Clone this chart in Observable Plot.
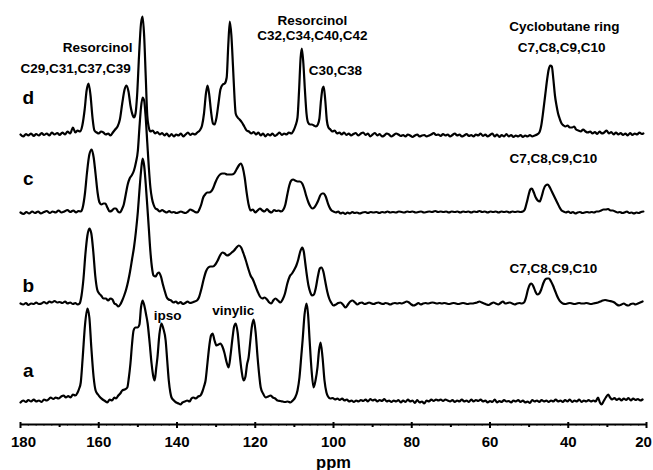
<!DOCTYPE html>
<html><head><meta charset="utf-8">
<script src="https://cdn.jsdelivr.net/npm/d3@7"></script>
<script src="https://cdn.jsdelivr.net/npm/@observablehq/plot@0.6"></script>
<style>body{margin:0;background:#fff}svg{display:block}</style>
</head><body><div id="chart"></div>
<script>
// stacked 13C CP-MAS spectra; intensities in arbitrary units above each baseline
const traceNames = ["a", "b", "c", "d"];
const traceOffsets = [22, 121, 212, 289];

const traceA = [[180,0],[179.3,2],[178.6,0.5],[178,2.5],[177.3,1],[176.6,3],[176,1],[175.3,2],[174.6,0.5],[174,3],[173.3,2],[172.6,4],[172.3,5],[171.6,3.5],[171,5],[170.3,4],[169.6,6],[169,7],[168.4,5],[167.8,6.5],[167.2,5],[166.6,8],[166,7],[165.4,10],[165,14],[164.6,20],[164.1,45],[163.5,78],[162.9,94],[162.4,85],[161.9,55],[161.3,25],[160.8,12],[160.2,8],[159.6,5],[159,3],[158.4,1.5],[157.8,0],[157.2,3],[156.6,2],[156,5],[155.6,4],[155,7],[154.5,9],[154,12],[153.4,13],[152.7,15],[152.3,25],[151.9,39],[151.5,58],[151.1,72],[150.6,75],[150.1,75],[149.6,78],[149.2,95],[148.8,102],[148.3,96],[147.9,88],[147.5,79],[147,60],[146.5,39],[146.1,27],[145.7,22],[145.3,35],[145,45],[144.5,68],[144,79],[143.5,74],[142.9,62],[142.5,42],[142.1,22],[141.7,10],[141.4,5],[140.8,2],[140.2,0],[139.6,-1],[139.1,-2],[138.6,0],[138,1],[137.4,2],[136.8,1],[136.3,4],[135.8,5],[135.2,4],[134.6,6],[134,7],[133.5,11],[133.1,16],[132.7,22],[132.2,40],[131.7,58],[131.3,67],[130.9,69],[130.4,62],[129.9,57],[129.4,58],[128.9,59],[128.4,56],[127.9,50],[127.3,40],[126.8,35],[126.3,48],[125.8,65],[125.4,76],[125,79],[124.5,70],[124,49],[123.5,32],[123,22],[122.5,26],[122.1,38],[121.7,45],[121.3,60],[120.9,75],[120.4,83],[119.9,70],[119.4,45],[119,28],[118.6,15],[118,9],[117.3,5],[116.7,6],[116.1,7],[115.5,5],[114.9,4],[114.3,2],[113.6,1.5],[113,1],[112.4,0.5],[111.7,1],[111,0],[110.4,2],[109.8,5],[109.2,12],[108.7,25],[108.2,48],[107.9,62],[107.4,88],[106.9,99],[106.5,88],[106.1,62],[105.6,32],[105.1,15],[104.6,22],[104.1,35],[103.7,52],[103.3,60],[102.8,45],[102.3,22],[101.8,10],[101.4,6],[100.8,4],[100.2,4.5],[99.6,3],[99,4],[98.4,2.5],[97.8,4],[97.2,2],[96.6,3],[96,1],[95.4,2],[94.8,0.5],[94.2,2],[93.6,1],[93,2.5],[92.4,1.5],[91.8,3],[91.2,1],[90.6,3.5],[90,2],[89.4,3],[88.8,1],[88.2,2.5],[87.6,1.5],[87,3.5],[86.4,1],[85.8,2],[85.2,0.5],[84.6,2],[84,1],[83.4,2.5],[82.8,0],[82.2,2],[81.6,0.5],[81,3],[80.4,1],[79.8,2],[79.2,-0.5],[78.6,2.5],[78,0],[77.4,1],[76.8,-1],[76.2,2],[75.6,1],[75,3],[74.4,1.5],[73.8,3],[73.2,2],[72.6,3],[72,1.5],[71.4,3],[70.8,2],[70.2,1],[69.6,2.5],[69,0.5],[68.4,2],[67.8,1],[67.2,3],[66.6,1],[66,2],[65.4,0.5],[64.8,3],[64.2,1],[63.6,2.5],[63,1.5],[62.4,3],[61.8,1],[61.2,2],[60.6,0],[60,1.5],[59.4,0.5],[58.8,3],[58.2,0],[57.6,1.5],[57,0.5],[56.4,2.5],[55.8,1],[55.2,1.5],[54.6,0],[54,2],[53.4,1],[52.8,2.5],[52.2,0.5],[51.6,2],[51,0],[50.4,1],[49.8,-0.5],[49.2,2.5],[48.6,1],[48,2],[47.4,0.5],[46.8,2.5],[46.2,1],[45.6,2],[45,0.5],[44.4,2],[43.8,1],[43.2,3],[42.6,1],[42,2],[41.4,0.5],[40.8,2.5],[40.2,1],[39.6,3],[39,0.5],[38.4,2],[37.8,1],[37.2,3],[36.6,0.5],[36,2],[35.4,1],[34.8,2.5],[34.2,1],[33.6,2],[33,1],[32.4,5],[31.9,0],[31.5,-2],[31,1],[30.4,5],[29.8,8],[29.3,5],[28.8,3],[28.2,4.5],[27.6,2.5],[27,4],[26.4,2],[25.8,4],[25.2,2.5],[24.6,4.5],[24,2],[23.4,4],[22.8,2.5],[22.2,3.5],[21.6,2],[21,3]];

const traceB = [[180,0],[179.3,-1],[178.6,0.5],[178,-1.5],[177.3,0],[176.6,-0.5],[176,1],[175.3,-0.5],[174.6,0],[174,1.5],[173.3,0],[172.6,2],[172,1],[171.3,2.5],[170.6,1],[170,1.5],[169.3,0.5],[168.6,2],[168,0],[167.3,1],[166.6,-0.5],[166,0.5],[165.4,-1],[164.9,0],[164.4,8],[163.9,25],[163.4,50],[162.9,68],[162.4,75],[161.9,70],[161.4,52],[160.9,28],[160.4,14],[159.9,10],[159.4,8],[158.8,5],[158.2,5],[157.6,3],[157,5],[156.5,4],[156,0],[155.5,-1],[155,-3],[154.5,-1],[154,3],[153.5,8],[153,14],[152.5,22],[152,32],[151.5,44],[151,56],[150.5,72],[150,92],[149.6,113],[149.2,132],[148.8,145],[148.4,138],[148,120],[147.6,98],[147.2,75],[146.8,52],[146.4,36],[146,28],[145.5,27],[145,30],[144.6,31],[144.1,27],[143.6,19],[143.1,12],[142.6,6],[142.1,4],[141.5,3],[140.9,1],[140.3,2],[139.7,0],[139.1,1.5],[138.5,-0.5],[137.9,0.5],[137.3,2],[136.7,0.5],[136.1,1],[135.5,2],[134.9,3],[134.4,6],[133.8,14],[133.2,24],[132.6,32],[132,36],[131.4,37],[130.8,37],[130.2,39],[129.6,43],[129,48],[128.4,51],[127.8,50],[127.2,48],[126.6,49],[126,51],[125.4,53],[124.8,56],[124.2,58],[123.6,56],[123,50],[122.4,43],[121.8,35],[121.2,28],[120.6,24],[120,18],[119.4,12],[118.8,7],[118.2,5],[117.6,6],[117,4],[116.4,1],[115.9,0],[115.4,3],[114.8,5],[114.2,3],[113.6,1],[113,4],[112.4,10],[111.8,20],[111.2,27],[110.6,30],[110,34],[109.5,38],[109,44],[108.5,52],[108,56],[107.6,52],[107.2,40],[106.8,28],[106.4,18],[106,12],[105.5,8],[105,9],[104.5,16],[104,27],[103.5,35],[103.1,36],[102.6,32],[102.1,22],[101.6,12],[101.1,5],[100.6,1],[100,-2],[99.4,-1],[98.8,0.5],[98.2,1],[97.6,-1],[96.9,-4],[96.3,-1],[95.7,2],[95.1,3],[94.5,1],[93.9,-1],[93.3,0.5],[92.7,1],[92.1,-0.5],[91.5,0],[90.9,1],[90.3,0],[89.7,-0.5],[89.1,0.5],[88.5,1],[87.9,0],[87.3,-0.5],[86.7,0.5],[86.1,0],[85.5,-1],[84.9,0],[84.3,0.5],[83.7,0],[83.1,0.5],[82.5,0],[81.9,1],[81.3,2],[80.7,1],[80.1,-1],[79.5,-2],[78.9,-1],[78.3,0.5],[77.7,-1],[77.1,0],[76.5,0.5],[75.9,0],[75.3,0.5],[74.7,1],[74.1,0.5],[73.5,0],[72.9,0.5],[72.3,0],[71.7,0.5],[71.1,0],[70.5,-0.5],[69.9,0],[69.3,0.5],[68.7,0],[68.1,-0.5],[67.5,0],[66.9,0.5],[66.3,0],[65.7,-0.5],[65.1,0],[64.5,0],[63.9,0.5],[63.3,1],[62.7,2],[62.1,1],[61.5,0],[60.9,-1],[60.3,-1.5],[59.7,0],[59.1,1],[58.5,0],[57.9,-1],[57.3,0.5],[56.7,2],[56.1,0],[55.5,0.5],[54.9,1],[54.3,0],[53.7,-1],[53.1,0],[52.5,0.5],[51.9,0],[51.3,1],[50.8,6],[50.3,14],[49.8,19],[49.4,20],[48.9,17],[48.4,12],[47.9,9],[47.4,10],[46.9,14],[46.4,20],[45.9,24],[45.4,25],[44.9,25],[44.4,22],[43.9,18],[43.4,13],[42.9,8],[42.4,4],[41.9,1.5],[41.4,0],[40.8,-0.5],[40.2,0],[39.6,0.5],[39,0],[38.4,-0.5],[37.8,0],[37.2,0.5],[36.6,0],[36,0],[35.4,0.5],[34.8,0],[34.2,-0.5],[33.6,0],[33,0.5],[32.4,1],[31.8,2],[31.2,3],[30.6,3.5],[30,3],[29.4,2.5],[28.8,2],[28.2,1],[27.6,-1],[27,-2],[26.4,-1],[25.8,0],[25.2,-1.5],[24.6,-2],[24,-0.5],[23.4,0],[22.8,-1],[22.2,0],[21.6,1],[21,2]];

const traceC = [[180,0],[179.2,-1.5],[178.5,0.5],[177.8,-1],[177,1],[176.3,-0.5],[175.5,1],[174.8,-1],[174,0.5],[173.3,1.5],[172.5,-0.5],[171.8,1],[171,0],[170.3,2],[169.5,0],[168.8,1],[168,2.5],[167.3,0.5],[166.5,2],[165.8,0],[165.2,1.5],[164.6,1],[164.1,5],[163.5,20],[163,40],[162.4,58],[161.8,63],[161.3,55],[160.8,38],[160.3,20],[159.8,10],[159.3,8],[158.8,9],[158.3,9],[157.8,5],[157.2,1],[156.6,2],[156.1,4],[155.6,4],[155.1,1],[154.6,0],[154.1,3],[153.6,8],[153.1,18],[152.6,28],[152.1,34],[151.6,37],[151,42],[150.5,50],[150,62],[149.6,85],[149.2,105],[148.8,115],[148.4,112],[148,95],[147.6,70],[147.2,45],[146.8,25],[146.4,14],[146,8],[145.5,4],[145,3],[144.4,1],[143.8,2.5],[143.2,1],[142.6,0],[142,1.5],[141.4,0],[140.8,0.5],[140.2,-0.5],[139.6,0],[139,1],[138.4,0],[137.8,-0.5],[137.2,1],[136.6,3],[136,2],[135.4,0.5],[134.8,0],[134.3,3],[133.8,8],[133.3,15],[132.8,18],[132.3,20],[131.8,20],[131.3,21],[130.8,24],[130.2,30],[129.6,35],[129,38],[128.4,39],[127.8,39],[127.2,38],[126.6,38],[126,38],[125.4,39],[124.8,43],[124.2,47],[123.7,49],[123.2,45],[122.7,35],[122.2,20],[121.7,8],[121.2,2],[120.6,3],[120,0],[119.4,2],[118.8,4],[118.2,2],[117.6,1],[117,3.5],[116.4,1],[115.8,0],[115.2,2.5],[114.6,1.5],[114,2],[113.4,1],[112.8,3],[112.3,8],[111.8,18],[111.3,27],[110.8,32],[110.3,33],[109.8,32],[109.2,31],[108.6,31],[108,29],[107.5,24],[107,17],[106.4,10],[105.9,6],[105.4,4],[104.9,5],[104.4,8],[103.9,12],[103.4,17],[102.9,19],[102.5,19],[102,16],[101.5,10],[101,5],[100.5,2],[100,1],[99.4,0],[98.8,1],[98.2,-1],[97.6,0],[97,-1.5],[96.4,0],[95.8,-1],[95.2,0.5],[94.6,-0.5],[94,0],[93.3,-1],[92.6,0],[91.9,0.5],[91.2,-0.5],[90.5,0.5],[89.8,0],[89,0.5],[88.3,-0.5],[87.6,0.5],[86.9,0],[86.2,1],[85.5,0],[84.8,0.5],[84,0],[83.3,1],[82.6,0.5],[81.9,0],[81.2,1],[80.5,0.5],[79.8,1],[79,0],[78.3,0.5],[77.6,1],[76.9,0],[76.2,0.5],[75.5,1],[74.8,0.5],[74,1.5],[73.3,0.5],[72.6,1],[71.9,0.5],[71.2,1],[70.5,0],[69.8,1],[69,0.5],[68.3,1],[67.6,0],[66.9,1],[66.2,0.5],[65.5,1],[64.8,0],[64.1,1],[63.4,0.5],[62.7,1.5],[62,0.5],[61.3,1],[60.6,0],[59.9,1],[59.2,0.5],[58.5,1],[57.8,0],[57.1,1],[56.4,0.5],[55.7,1],[55,0],[54.3,1],[53.6,0.5],[52.9,1],[52.2,0.5],[51.6,1],[51.1,3],[50.6,10],[50.1,18],[49.7,23],[49.3,24],[48.8,20],[48.3,15],[47.8,12],[47.3,11],[46.8,16],[46.3,23],[45.8,27],[45.2,28],[44.7,25],[44.2,21],[43.7,17],[43.2,13],[42.7,9],[42.2,5],[41.7,2],[41.2,1],[40.6,0],[40,1],[39.4,-0.5],[38.8,0.5],[38.2,-1],[37.6,0],[37,0.5],[36.4,-0.5],[35.8,0],[35.2,0.5],[34.6,0],[34,0.5],[33.4,0],[32.8,1],[32.2,1],[31.6,2],[31,3],[30.4,3],[29.8,3.5],[29.2,2],[28.6,2],[28,1],[27.4,0],[26.8,0.5],[26.2,-0.5],[25.6,0],[25,1],[24.4,-0.5],[23.8,0],[23.2,-1],[22.6,0],[22,-0.5],[21.4,0.5],[20.8,1]];

const traceD = [[180,1],[179.3,-1],[178.6,1.5],[178,0],[177.3,2],[176.6,-0.5],[176,1.5],[175.3,0],[174.6,2.5],[174,0.5],[173.3,2],[172.6,0],[172,3],[171.3,1],[170.6,2.5],[170,0.5],[169.3,3],[168.6,1],[168,4],[167.3,2],[166.6,8],[166,3],[165.4,5],[164.8,4],[164.2,10],[163.6,26],[163.1,45],[162.6,52],[162.1,40],[161.6,18],[161.1,5],[160.5,3],[160,2],[159.4,4],[158.8,3],[158.2,1],[157.6,2],[157,0],[156.4,3],[155.8,6],[155.2,9],[154.6,16],[154,32],[153.4,46],[152.9,50],[152.4,44],[151.9,30],[151.3,20],[151,18],[150.6,22],[150.2,40],[149.7,80],[149.2,112],[148.8,119],[148.4,100],[148,60],[147.6,20],[147.2,8],[146.8,4],[146.2,5],[145.6,2],[145,3.5],[144.4,1],[143.8,2.5],[143.2,0],[142.6,2],[142,-1],[141.4,1.5],[140.8,-1],[140.2,1],[139.6,0],[139,2],[138.4,-1],[137.8,1],[137.2,3],[136.6,0.5],[136,2],[135.4,1],[134.8,3],[134.2,5],[133.6,10],[133.1,22],[132.6,42],[132.2,50],[131.8,42],[131.3,24],[130.8,12],[130.4,11],[129.9,18],[129.4,32],[128.9,46],[128.3,51],[127.8,52],[127.3,58],[126.9,90],[126.5,114],[126.1,100],[125.7,70],[125.3,38],[125,22],[124.5,18],[124,16],[123.4,13],[122.8,9],[122.2,5],[121.6,4],[121,2],[120.4,3.5],[119.8,1],[119.2,3],[118.6,0],[118,2],[117.4,-1],[116.8,1.5],[116.2,0],[115.6,2],[115,-0.5],[114.4,1],[113.8,3],[113.2,0.5],[112.6,2],[112,1],[111.4,3],[110.8,2],[110.2,5],[109.7,10],[109.2,18],[108.8,45],[108.4,78],[108.1,87],[107.7,72],[107.3,45],[106.9,22],[106.5,13],[106,11],[105.5,11],[105,10],[104.5,9],[104,11],[103.6,17],[103.2,35],[102.8,47],[102.5,49],[102.1,35],[101.7,15],[101.3,8],[100.8,6],[100.3,4],[99.7,5],[99.1,2],[98.5,3],[97.9,1],[97.3,3],[96.7,0.5],[96.1,2],[95.5,0],[94.9,1.5],[94.3,2.5],[93.7,0],[93,2],[92.4,3],[91.8,0.5],[91.2,2],[90.6,-1],[90,1],[89.4,2.5],[88.8,0],[88.2,1.5],[87.6,-1],[87,0],[86.4,2],[85.8,1],[85.2,-1],[84.6,0.5],[84,2],[83.4,1],[82.8,-0.5],[82.2,0.5],[81.6,-1],[81,1],[80.4,0],[79.8,-1.5],[79.2,0],[78.6,1],[78,-1],[77.4,0],[76.8,0.5],[76.2,-1],[75.6,0],[75,1],[74.4,2.5],[73.8,0.5],[73.2,1],[72.6,-0.5],[72,1.5],[71.4,0],[70.8,1],[70.2,-1],[69.6,0.5],[69,2],[68.4,0],[67.8,1],[67.2,-1],[66.6,0],[66,1.5],[65.4,-0.5],[64.8,0.5],[64.2,-1],[63.6,1],[63,0],[62.4,2],[61.8,-0.5],[61.2,1],[60.6,-1],[60,0.5],[59.4,2],[58.8,-1],[58.2,1],[57.6,-1.5],[57,0.5],[56.4,-1],[55.8,1.5],[55.2,-1],[54.6,0.5],[54,-1.5],[53.4,0],[52.8,-1],[52.2,0.5],[51.6,-1.5],[51,0],[50.4,-1],[49.8,0.5],[49.2,-1],[48.6,0],[48,1],[47.4,3],[46.9,10],[46.4,24],[45.9,40],[45.4,56],[45,66],[44.6,70],[44.2,69],[43.8,56],[43.4,40],[43,30],[42.6,22],[42.2,17],[41.7,12],[41.2,10],[40.7,9],[40.2,10],[39.6,8],[39,8],[38.5,9],[38,6],[37.4,5],[36.8,4],[36.2,6],[35.6,4],[35,3],[34.4,4],[33.8,2],[33.2,3.5],[32.6,1.5],[32,4],[31.4,2],[30.8,3],[30.2,5],[29.6,2],[29,3.5],[28.4,1],[27.8,3],[27.2,1],[26.6,2.5],[26,0.5],[25.4,2],[24.8,0],[24.2,2.5],[23.6,0.5],[23,2],[22.4,1],[21.8,3],[21.2,1.5],[20.8,2]];

const traces = [traceA, traceB, traceC, traceD];

const majorTicks = [180, 160, 140, 120, 100, 80, 60, 40, 20];
const minorTicks = [170, 150, 130, 110, 90, 70, 50, 30];
const axisTitle = "ppm";

// annotation texts: [text, ppm, level]
const traceLabels = [["a", 178, 54], ["b", 178, 139], ["c", 178, 246], ["d", 178, 327]];
const peakLabels = [
  ["Resorcinol", 160.3, 377],
  ["C29,C31,C37,C39", 165.9, 356],
  ["Resorcinol", 105.4, 404],
  ["C32,C34,C40,C42", 105.4, 389],
  ["C30,C38", 99.5, 354],
  ["Cyclobutane ring", 41.0, 398],
  ["C7,C8,C9,C10", 41.7, 377],
  ["C7,C8,C9,C10", 43.8, 266],
  ["C7,C8,C9,C10", 43.8, 156],
  ["ipso", 142.4, 109],
  ["vinylic", 125.6, 114]
];

const rows = [];
traces.forEach((t, i) => t.forEach(([p, h]) => rows.push({trace: traceNames[i], ppm: p, value: traceOffsets[i] + h})));

const fineTicks = d3.range(20, 181, 2);
const innerTicks = majorTicks.slice(1, -1);

const font = "'Liberation Sans', Arial, sans-serif";
const tickText = {y: -18, text: d => String(d), fontSize: 15, fontWeight: "bold", fill: "black"};
const chart = Plot.plot({
  width: 653,
  height: 470,
  marginLeft: 20,
  marginRight: 7,
  marginTop: 0,
  marginBottom: 46,
  style: {fontFamily: font, background: "#fff"},
  x: {domain: [180, 20], axis: null},
  y: {domain: [0, 424], axis: null},
  marks: [
    Plot.ruleX(fineTicks, {x: d => d, y1: 0, y2: -1.6, stroke: "black", strokeWidth: 1}),
    Plot.ruleX(minorTicks, {x: d => d, y1: 0, y2: -3, stroke: "black", strokeWidth: 2}),
    Plot.ruleX(majorTicks, {x: d => d, y1: 2, y2: -4, stroke: "black", strokeWidth: 2}),
    Plot.ruleY([0], {stroke: "black", strokeWidth: 2}),
    Plot.text(innerTicks, {x: d => d, ...tickText}),
    Plot.text([180], {x: d => d, ...tickText, dx: 3}),
    Plot.text([20], {x: d => d, ...tickText, dx: -3}),
    Plot.text([axisTitle], {x: 100, y: -38, text: d => d, fontSize: 16.5, fontWeight: "bold", fill: "black"}),
    Plot.line(rows, {x: "ppm", y: "value", z: "trace", stroke: "black", strokeWidth: 2.2, curve: "monotone-x", strokeLinejoin: "round"}),
    Plot.text(traceLabels, {x: d => d[1], y: d => d[2], text: d => d[0], fontSize: 19, fontWeight: "bold", fill: "black"}),
    Plot.text(peakLabels, {x: d => d[1], y: d => d[2], text: d => d[0], fontSize: 13.5, fontWeight: "bold", fill: "black"})
  ]
});
document.getElementById("chart").appendChild(chart);
</script>
</body></html>
